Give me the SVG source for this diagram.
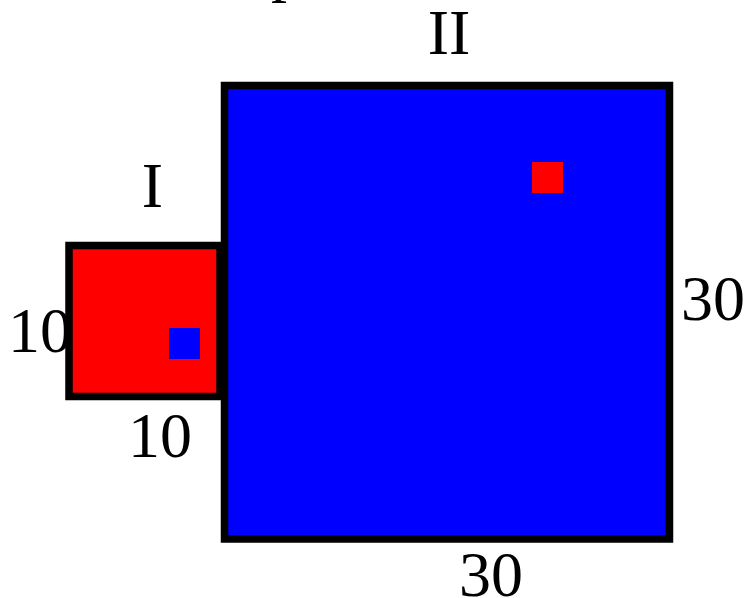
<svg xmlns="http://www.w3.org/2000/svg" width="747" height="598" viewBox="0 0 747 598">
<style>
.box{stroke:#000;stroke-width:7.5;stroke-linejoin:miter}
.lbl{font-family:"Liberation Serif","Times New Roman",serif;font-size:64px;fill:#000;text-anchor:middle}
</style>
<rect width="747" height="598" fill="#fff"/>
<text class="lbl" x="271" y="-11" style="text-anchor:start">p</text>
<g id="square-II">
<rect class="box" x="224.5" y="85.5" width="445" height="453.5" fill="#0000ff"/>
<rect x="532" y="162" width="31" height="31" fill="#ff0000"/>
<text class="lbl" x="449" y="54">II</text>
<text class="lbl" x="713" y="320">30</text>
<text class="lbl" x="491" y="596">30</text>
</g>
<g id="square-I">
<rect class="box" x="69" y="245.5" width="151" height="151" fill="#ff0000"/>
<rect x="169" y="328" width="31" height="31" fill="#0000ff"/>
<text class="lbl" x="152.5" y="207">I</text>
<text class="lbl" x="40" y="352">10</text>
<text class="lbl" x="160" y="457">10</text>
</g>
<g id="connectors"></g>
</svg>
